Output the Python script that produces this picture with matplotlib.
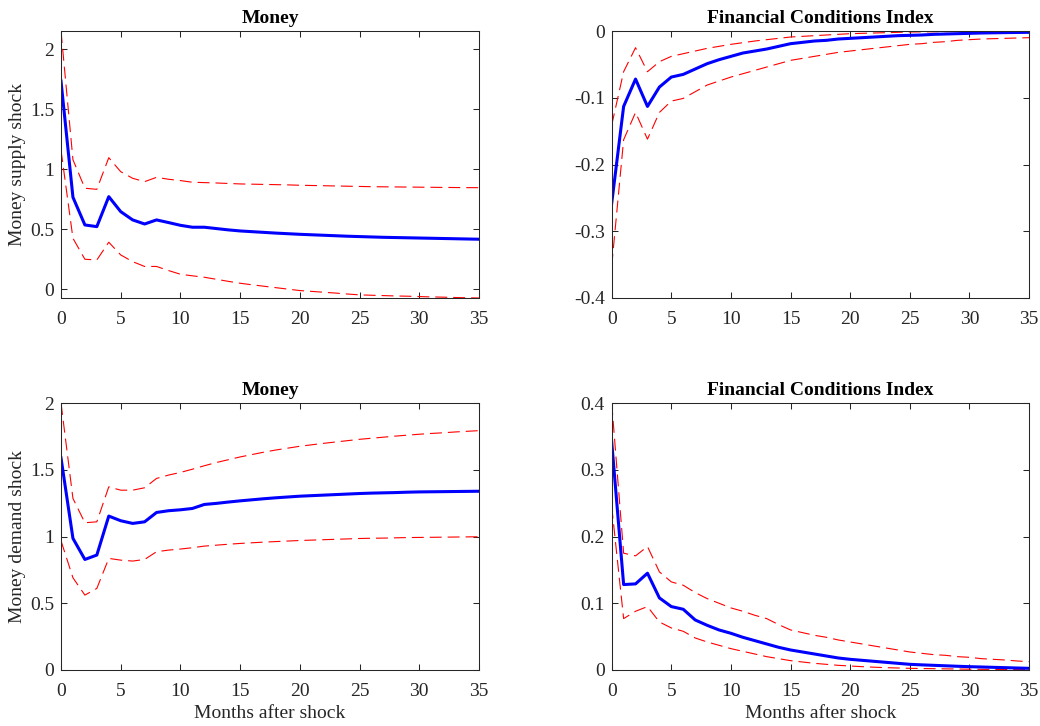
import numpy as np
import matplotlib
matplotlib.use("Agg")
import matplotlib.pyplot as plt

months = list(range(36))

ms_money = [1.736, 0.767, 0.536, 0.522, 0.772, 0.647, 0.578, 0.544, 0.578, 0.556, 0.533, 0.517,
            0.517, 0.506, 0.495, 0.486, 0.480, 0.474, 0.468, 0.463, 0.458, 0.454, 0.450, 0.446,
            0.442, 0.439, 0.436, 0.433, 0.431, 0.429, 0.427, 0.425, 0.423, 0.421, 0.419, 0.417]
ms_money_hi = [2.153, 1.08, 0.842, 0.833, 1.097, 0.98, 0.925, 0.897, 0.933, 0.917, 0.906, 0.892,
               0.889, 0.886, 0.882, 0.878, 0.876, 0.874, 0.872, 0.870, 0.867, 0.865, 0.863, 0.861,
               0.859, 0.857, 0.855, 0.854, 0.853, 0.852, 0.851, 0.850, 0.849, 0.848, 0.847, 0.847]
ms_money_lo = [1.16, 0.425, 0.25, 0.244, 0.392, 0.286, 0.23, 0.19, 0.19, 0.156, 0.125, 0.112,
               0.100, 0.083, 0.066, 0.050, 0.037, 0.025, 0.013, 0.001, -0.011, -0.018, -0.025, -0.032,
               -0.040, -0.047, -0.050, -0.053, -0.056, -0.058, -0.061, -0.064, -0.066, -0.069, -0.071, -0.073]

ms_fci = [-0.258, -0.113, -0.072, -0.113, -0.084, -0.069, -0.065, -0.057, -0.049, -0.043, -0.038, -0.033,
          -0.030, -0.027, -0.023, -0.019, -0.017, -0.015, -0.014, -0.012, -0.011, -0.010, -0.009, -0.008,
          -0.007, -0.0065, -0.006, -0.005, -0.0045, -0.004, -0.0035, -0.003, -0.0027, -0.0024, -0.0022, -0.002]
ms_fci_hi = [-0.141, -0.061, -0.025, -0.061, -0.046, -0.038, -0.034, -0.030, -0.026, -0.023, -0.020, -0.0175,
             -0.015, -0.013, -0.011, -0.009, -0.008, -0.007, -0.006, -0.005, -0.004, -0.0035, -0.003, -0.0025,
             -0.002, -0.0015, -0.0013, -0.0011, -0.0009, -0.0007, -0.0005, -0.0004, -0.0003, -0.0002, -0.0001, 0.0]
ms_fci_lo = [-0.352, -0.163, -0.122, -0.162, -0.122, -0.105, -0.101, -0.091, -0.081, -0.075, -0.069, -0.064,
             -0.059, -0.054, -0.049, -0.044, -0.041, -0.038, -0.035, -0.032, -0.030, -0.028, -0.026, -0.024,
             -0.022, -0.020, -0.019, -0.017, -0.016, -0.014, -0.013, -0.012, -0.0115, -0.011, -0.0105, -0.010]

md_money = [1.589, 0.986, 0.828, 0.861, 1.153, 1.118, 1.098, 1.110, 1.180, 1.193, 1.200, 1.210,
            1.240, 1.248, 1.258, 1.267, 1.275, 1.283, 1.290, 1.296, 1.302, 1.306, 1.310, 1.314,
            1.318, 1.322, 1.325, 1.327, 1.329, 1.332, 1.334, 1.335, 1.336, 1.337, 1.338, 1.339]
md_money_hi = [2.0, 1.285, 1.103, 1.110, 1.372, 1.347, 1.347, 1.365, 1.435, 1.46, 1.48, 1.504,
               1.53, 1.554, 1.575, 1.596, 1.614, 1.632, 1.648, 1.662, 1.676, 1.687, 1.698, 1.708,
               1.718, 1.728, 1.736, 1.744, 1.752, 1.759, 1.766, 1.772, 1.777, 1.783, 1.788, 1.793]
md_money_lo = [0.968, 0.691, 0.561, 0.611, 0.836, 0.823, 0.816, 0.828, 0.886, 0.898, 0.906, 0.916,
               0.928, 0.935, 0.942, 0.948, 0.953, 0.958, 0.962, 0.966, 0.970, 0.973, 0.976, 0.979,
               0.982, 0.985, 0.987, 0.988, 0.990, 0.992, 0.993, 0.994, 0.995, 0.996, 0.997, 0.998]

md_fci = [0.342, 0.128, 0.129, 0.145, 0.108, 0.095, 0.091, 0.075, 0.067, 0.060, 0.055, 0.049,
          0.044, 0.039, 0.034, 0.030, 0.027, 0.024, 0.021, 0.018, 0.016, 0.0145, 0.013, 0.0115,
          0.010, 0.0085, 0.0077, 0.007, 0.0063, 0.0056, 0.005, 0.0045, 0.004, 0.0035, 0.003, 0.0025]
md_fci_hi = [0.400, 0.175, 0.171, 0.185, 0.147, 0.132, 0.127, 0.116, 0.107, 0.100, 0.093, 0.088,
             0.082, 0.077, 0.068, 0.060, 0.056, 0.052, 0.049, 0.045, 0.042, 0.039, 0.036, 0.033,
             0.030, 0.027, 0.025, 0.023, 0.022, 0.020, 0.019, 0.017, 0.016, 0.015, 0.0135, 0.0125]
md_fci_lo = [0.245, 0.077, 0.088, 0.095, 0.072, 0.063, 0.058, 0.048, 0.042, 0.037, 0.032, 0.028,
             0.024, 0.020, 0.017, 0.014, 0.012, 0.010, 0.0085, 0.007, 0.006, 0.005, 0.0042, 0.0035,
             0.003, 0.0025, 0.0022, 0.002, 0.0017, 0.0015, 0.0012, 0.001, 0.0009, 0.0007, 0.0006, 0.0005]

titles = ["Money", "Financial Conditions Index", "Money", "Financial Conditions Index"]
ylabels = ["Money supply shock", None, "Money demand shock", None]
xlabel = "Months after shock"
xticks = [0, 5, 10, 15, 20, 25, 30, 35]
yticks = [[0, 0.5, 1, 1.5, 2], [-0.4, -0.3, -0.2, -0.1, 0],
          [0, 0.5, 1, 1.5, 2], [0, 0.1, 0.2, 0.3, 0.4]]
ylims = [(-0.073, 2.153), (-0.4, 0.0), (0.0, 2.0), (0.0, 0.4)]

plt.rcParams['font.family'] = ['Liberation Serif', 'DejaVu Serif']
plt.rcParams['axes.unicode_minus'] = False
plt.rcParams['lines.scale_dashes'] = False

W, H = 1040, 726
fig = plt.figure(figsize=(W / 100, H / 100), dpi=100)

def pos(x0, x1, y0, y1):
    return [x0 / W, 1 - y1 / H, (x1 - x0) / W, (y1 - y0) / H]

positions = [pos(61, 479, 31, 298), pos(611.7, 1029, 31, 298),
             pos(61, 479, 403, 670), pos(611.7, 1029, 403, 670)]
series = [(ms_money, ms_money_hi, ms_money_lo), (ms_fci, ms_fci_hi, ms_fci_lo),
          (md_money, md_money_hi, md_money_lo), (md_fci, md_fci_hi, md_fci_lo)]

axcol = '#262626'
for i in range(4):
    ax = fig.add_axes(positions[i])
    mid, hi, lo = series[i]
    ax.plot(months, hi, color='red', lw=0.8, dashes=(8.6, 4.3))
    ax.plot(months, lo, color='red', lw=0.8, dashes=(8.6, 4.3))
    ax.plot(months, mid, color='blue', lw=2.2)
    ax.set_xlim(0, 35)
    ax.set_ylim(*ylims[i])
    ax.set_xticks(xticks)
    ax.set_yticks(yticks[i])
    ax.set_yticklabels([('%g' % v) for v in yticks[i]])
    ax.tick_params(direction='in', top=True, right=True, length=4, width=0.75,
                   labelsize=14, colors=axcol)
    ax.tick_params(axis='x', pad=9)
    ax.tick_params(axis='y', pad=5)
    for s in ax.spines.values():
        s.set_color(axcol)
        s.set_linewidth(0.75)
    ax.set_title(titles[i], fontsize=14, fontweight='bold', pad=6, color='black')
    if ylabels[i]:
        ax.set_ylabel(ylabels[i], fontsize=14, color=axcol, labelpad=3)
    if i >= 2:
        ax.set_xlabel(xlabel, fontsize=14, color=axcol, labelpad=4)

fig.savefig("out.png", dpi=100)
